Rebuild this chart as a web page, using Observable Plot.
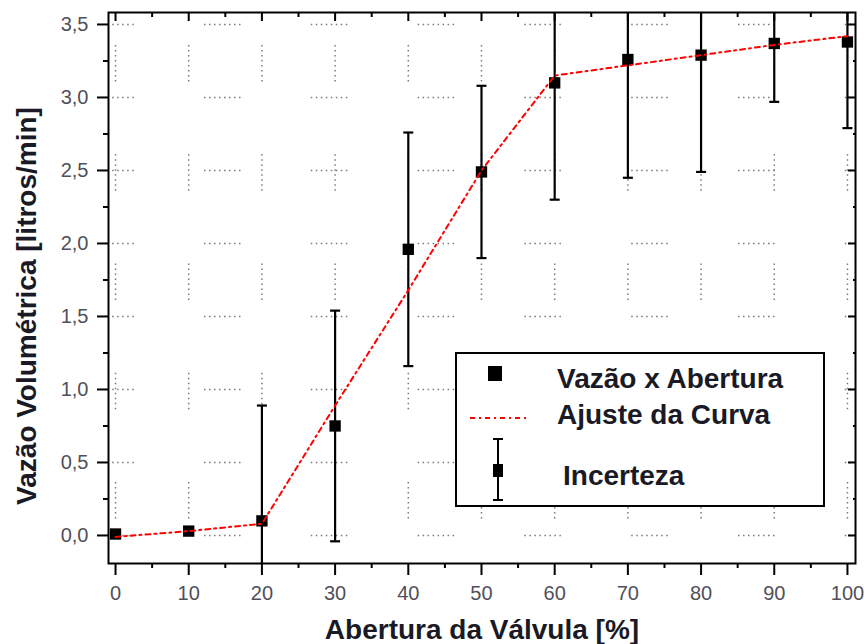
<!DOCTYPE html>
<html>
<head>
<meta charset="utf-8">
<script src="https://cdn.jsdelivr.net/npm/d3@7"></script>
<script src="https://cdn.jsdelivr.net/npm/@observablehq/plot@0.6"></script>
<style>
  html, body { margin: 0; padding: 0; background: #fff; }
  #wrap { position: relative; width: 864px; height: 644px; font-family: "Liberation Sans", Arial, sans-serif; }
  #legend { position: absolute; left: 0; top: 0; pointer-events: none; }
  g[aria-label="x-axis tick"], g[aria-label="y-axis tick"] { stroke-width: 2px; }
</style>
</head>
<body>
<div id="wrap"></div>
<script>
// ---- data ----
const abertura = [0, 10, 20, 30, 40, 50, 60, 70, 80, 90, 100];
const vazao    = [0.01, 0.03, 0.10, 0.75, 1.96, 2.49, 3.10, 3.26, 3.29, 3.37, 3.38];
const incerteza = [0, 0, 0.79, 0.79, 0.80, 0.59, 0.80, 0.81, 0.80, 0.40, 0.59];
const ajusteY  = [-0.01, 0.03, 0.08, 0.89, 1.68, 2.50, 3.15, 3.22, 3.29, 3.36, 3.42];
const xTicks = [0, 10, 20, 30, 40, 50, 60, 70, 80, 90, 100];
const xMinor = [5, 15, 25, 35, 45, 55, 65, 75, 85, 95];
const yTicks = [0, 0.5, 1.0, 1.5, 2.0, 2.5, 3.0, 3.5];
const yMinor = [0.25, 0.75, 1.25, 1.75, 2.25, 2.75, 3.25];
const xLabel = "Abertura da Válvula [%]";
const yLabel = "Vazão Volumétrica [litros/min]";
const legendLabels = ["Vazão x Abertura", "Ajuste da Curva", "Incerteza"];

// ---- derived tables ----
const pts = abertura.map((x, i) => ({x, y: vazao[i], err: incerteza[i]}));
const errPts = pts.filter(d => d.err > 0);
const fit = abertura.map((x, i) => ({x, y: ajusteY[i]}));

const fmtY = d => d.toFixed(1).replace(".", ",");
const blank = () => "";
const cap = {draw(ctx, size) { const r = Math.sqrt(size / Math.PI); ctx.moveTo(-r, 0); ctx.lineTo(r, 0); }};

function dotted(n, on, off, period) {
  const a = [];
  for (let i = 0; i < n - 1; i++) a.push(on, off);
  const used = (n - 1) * (on + off) + on;
  a.push(on, period - used);
  return a.join(",");
}
const hDash = dotted(8, 1.5, 3.5, 106.8);
const vDash = dotted(8, 1.5, 3.5, 109.25);

const font = "'Liberation Sans', Arial, sans-serif";
const ink = "#1a1a26";
const tickInk = "#50505a";

const chart = Plot.plot({
  width: 864,
  height: 644,
  marginLeft: 108,
  marginRight: 9,
  marginTop: 12,
  marginBottom: 81,
  style: {fontFamily: font, background: "white", overflow: "visible"},
  x: {domain: [-0.96, 101.1]},
  y: {domain: [-0.192, 3.582]},
  marks: [
    Plot.gridY(yTicks, {stroke: "#7a7a7a", strokeOpacity: 1, strokeWidth: 1.5, strokeDasharray: hDash, strokeDashoffset: 10.8}),
    Plot.gridX(xTicks, {stroke: "#7a7a7a", strokeOpacity: 1, strokeWidth: 1.5, strokeDasharray: vDash, strokeDashoffset: 76.25}),
    Plot.ruleX(errPts, {x: "x", y1: d => d.y - d.err, y2: d => d.y + d.err, stroke: "black", strokeWidth: 2.2, clip: true}),
    Plot.dot(errPts, {x: "x", y: d => d.y - d.err, symbol: cap, r: 5, stroke: "black", strokeWidth: 2.2, fill: "none", clip: true}),
    Plot.dot(errPts, {x: "x", y: d => d.y + d.err, symbol: cap, r: 5, stroke: "black", strokeWidth: 2.2, fill: "none", clip: true}),
    Plot.dot(pts, {x: "x", y: "y", symbol: "square", r: 6.4, fill: "black", stroke: null}),
    Plot.line(fit, {x: "x", y: "y", stroke: "#ff0000", strokeWidth: 2, strokeDasharray: "5,4,2,4"}),
    Plot.frame({stroke: "black", strokeWidth: 2}),
    Plot.axisY(yTicks, {anchor: "left", tickSize: 11, tickPadding: 9, tickFormat: fmtY, fontSize: 20, fill: tickInk, stroke: "black", strokeWidth: 2, label: null}),
    Plot.axisY(yMinor, {anchor: "left", tickSize: 5, tickFormat: blank, stroke: "black", strokeWidth: 2, label: null}),
    Plot.axisX(xTicks, {anchor: "bottom", tickSize: 12, tickPadding: 10, tickFormat: d => String(d), fontSize: 20, fill: tickInk, stroke: "black", strokeWidth: 2, label: null}),
    Plot.axisX(xMinor, {anchor: "bottom", tickSize: 5, tickFormat: blank, stroke: "black", strokeWidth: 2, label: null}),
    Plot.axisX(xTicks, {anchor: "top", tickSize: 8, dy: 8, tickFormat: blank, stroke: "black", strokeWidth: 2, label: null}),
    Plot.axisX(xMinor, {anchor: "top", tickSize: 4, dy: 4, tickFormat: blank, stroke: "black", strokeWidth: 2, label: null}),
    Plot.axisY(yTicks, {anchor: "right", tickSize: 8, dx: -8, tickFormat: blank, stroke: "black", strokeWidth: 2, label: null}),
    Plot.axisY(yMinor, {anchor: "right", tickSize: 3, dx: -3, tickFormat: blank, stroke: "black", strokeWidth: 2, label: null}),
    Plot.text([xLabel], {text: d => d, frameAnchor: "bottom", dy: 67, lineAnchor: "middle", textAnchor: "middle", fontSize: 28, fontWeight: "bold", fill: ink}),
    Plot.text([yLabel], {text: d => d, frameAnchor: "left", dx: -81, dy: 18, rotate: -90, lineAnchor: "middle", textAnchor: "middle", fontSize: 28, fontWeight: "bold", fill: ink})
  ]
});

const wrap = document.getElementById("wrap");
wrap.appendChild(chart);

// ---- legend (overlay) ----
const leg = d3.select(wrap).append("svg")
  .attr("id", "legend").attr("width", 864).attr("height", 644);
const g = leg.append("g").attr("transform", "translate(455,352)");
g.append("rect").attr("x", 1).attr("y", 1).attr("width", 368).attr("height", 153)
  .attr("fill", "white").attr("stroke", "black").attr("stroke-width", 2);
// item 1: square
g.append("rect").attr("x", 33).attr("y", 14).attr("width", 14).attr("height", 15).attr("fill", "black");
// item 2: red dash-dot line
g.append("line").attr("x1", 15).attr("x2", 75).attr("y1", 66).attr("y2", 66)
  .attr("stroke", "#ff0000").attr("stroke-width", 2).attr("stroke-dasharray", "5,4,2,4");
// item 3: error bar
g.append("line").attr("x1", 43).attr("x2", 43).attr("y1", 87).attr("y2", 148).attr("stroke", "black").attr("stroke-width", 2);
g.append("line").attr("x1", 38).attr("x2", 48).attr("y1", 87).attr("y2", 87).attr("stroke", "black").attr("stroke-width", 2);
g.append("line").attr("x1", 38).attr("x2", 48).attr("y1", 148).attr("y2", 148).attr("stroke", "black").attr("stroke-width", 2);
g.append("rect").attr("x", 38).attr("y", 112).attr("width", 10).attr("height", 13).attr("fill", "black");
const ly = [26, 62, 123];
const lx = [102, 102, 108];
legendLabels.forEach((t, i) => {
  g.append("text").attr("x", lx[i]).attr("y", ly[i]).attr("dy", "0.36em")
    .attr("font-family", font).attr("font-size", 28).attr("font-weight", "bold")
    .attr("fill", ink).text(t);
});
</script>
</body>
</html>
